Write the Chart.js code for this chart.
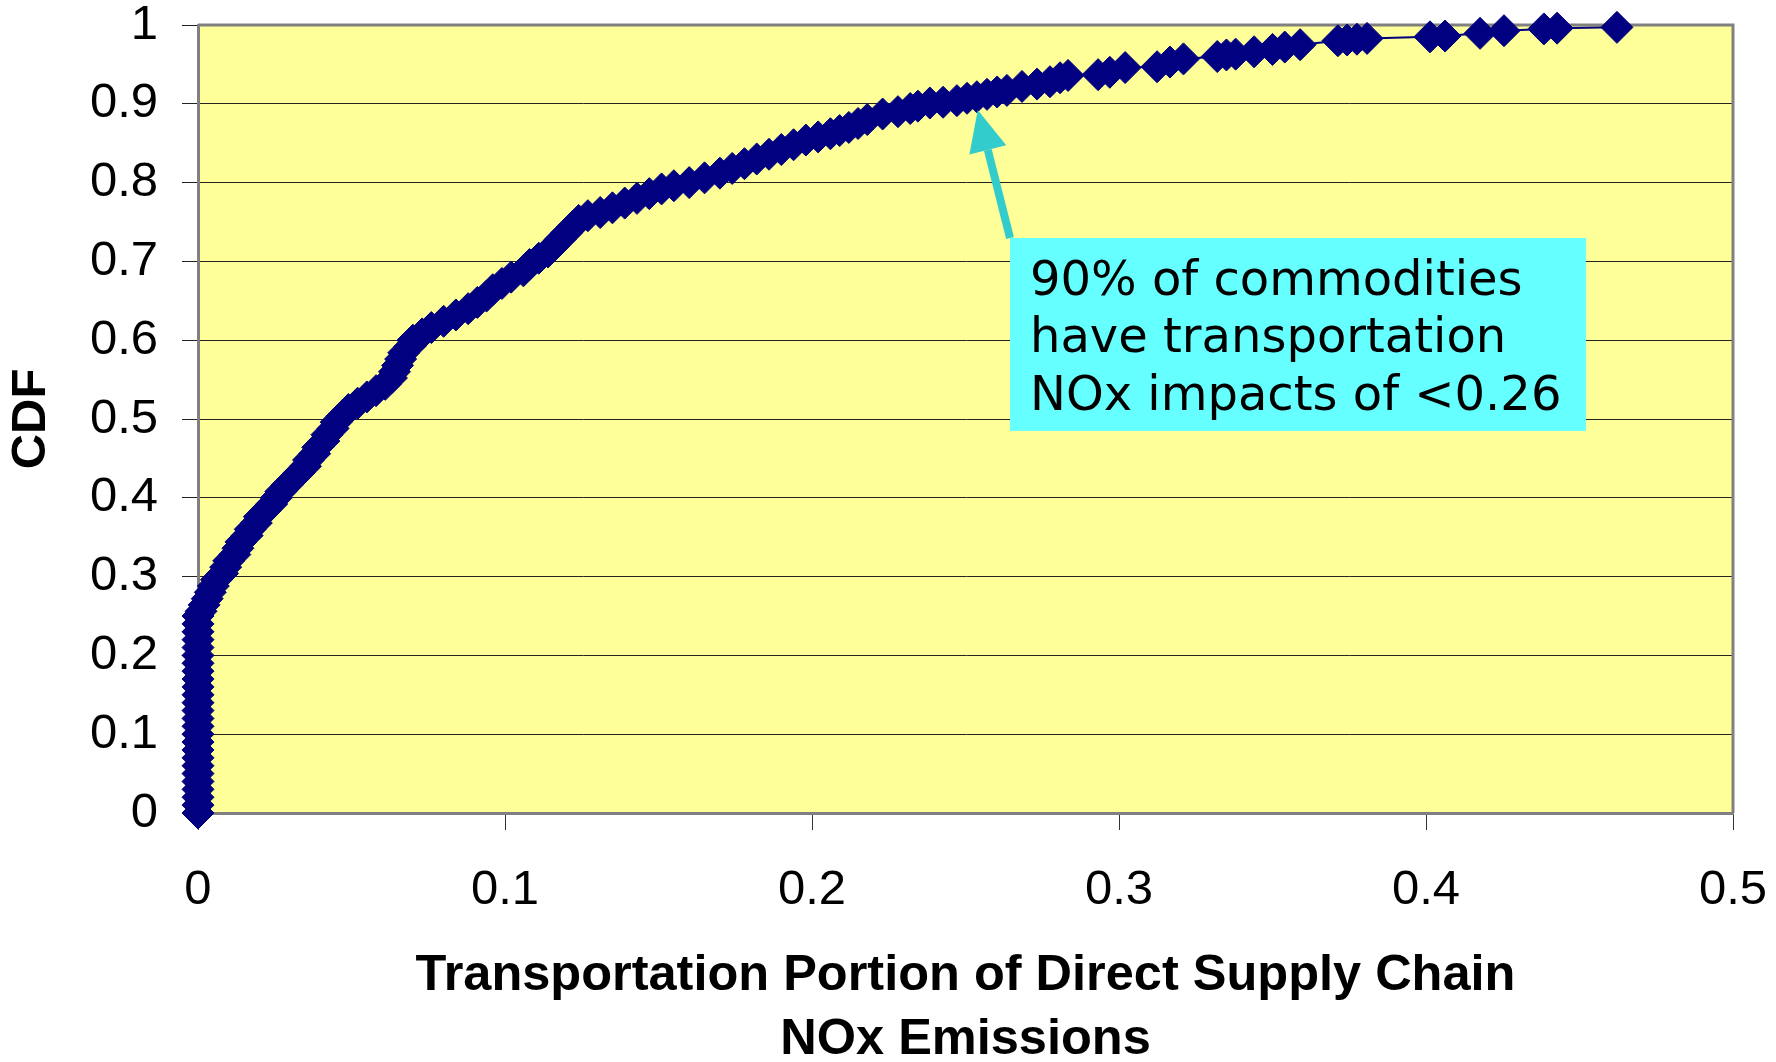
<!DOCTYPE html>
<html>
<head>
<meta charset="utf-8">
<script src="https://cdn.jsdelivr.net/npm/chart.js@4.4.1/dist/chart.umd.min.js"></script>
<style>
  html, body { margin: 0; padding: 0; background: #fff; }
</style>
</head>
<body>
<canvas id="cdf" width="1776" height="1062"></canvas>
<script>
// transportation share of direct supply chain NOx, one entry per commodity (sorted)
let nox = [
  0, 0, 0, 0, 0, 0, 0, 0, 0, 0,
  0, 0, 0, 0, 0, 0, 0, 0, 0, 0,
  0, 0, 0, 0, 0, 0,
  0.001, 0.002, 0.003, 0.004, 0.005, 0.006, 0.008, 0.009, 0.010, 0.012,
  0.013, 0.014, 0.016, 0.017, 0.019, 0.020, 0.022, 0.024, 0.0255, 0.027,
  0.029, 0.031, 0.033, 0.035, 0.036, 0.038, 0.039, 0.041, 0.042, 0.044,
  0.045, 0.047, 0.049, 0.052, 0.055, 0.058, 0.061, 0.063, 0.064, 0.065,
  0.066, 0.067, 0.069, 0.070, 0.073, 0.076, 0.080, 0.084, 0.088, 0.091,
  0.094, 0.096, 0.099, 0.102, 0.106, 0.108, 0.111, 0.114, 0.116, 0.118,
  0.120, 0.122, 0.124, 0.127, 0.131, 0.135, 0.139, 0.143, 0.147, 0.151,
  0.155, 0.160, 0.165, 0.170, 0.174, 0.178, 0.182, 0.186, 0.190, 0.194,
  0.198, 0.202, 0.206, 0.209, 0.212, 0.215, 0.218, 0.223,
  0.228, 0.232, 0.2345, 0.2384, 0.2427, 0.2472, 0.2505, 0.2537, 0.257, 0.2603,
  0.2635, 0.2684, 0.2733, 0.2775, 0.2808, 0.2834, 0.2932, 0.2970, 0.302, 0.3124,
  0.3166, 0.321, 0.332, 0.335, 0.338, 0.344, 0.350, 0.354, 0.359, 0.3713,
  0.3743, 0.3775, 0.3808, 0.4013, 0.4062, 0.4176, 0.4254, 0.4384, 0.4427, 0.4622
]

// cumulative share of commodities
let cdf = [
  0.00, 0.01, 0.02, 0.03, 0.04, 0.05, 0.06, 0.07, 0.08, 0.09,
  0.10, 0.11, 0.12, 0.13, 0.14, 0.15, 0.16, 0.17, 0.18, 0.19,
  0.20, 0.21, 0.22, 0.23, 0.24, 0.25,
  0.256, 0.264, 0.272, 0.280, 0.288, 0.296, 0.304, 0.312, 0.320, 0.328,
  0.336, 0.344, 0.352, 0.360, 0.368, 0.376, 0.384, 0.392, 0.400, 0.408,
  0.416, 0.424, 0.432, 0.440, 0.448, 0.456, 0.464, 0.472, 0.480, 0.488,
  0.496, 0.504, 0.512, 0.520, 0.528, 0.536, 0.544, 0.552, 0.560, 0.568,
  0.576, 0.584, 0.592, 0.600, 0.608, 0.616, 0.624, 0.632, 0.640, 0.648,
  0.656, 0.664, 0.672, 0.680, 0.688, 0.696, 0.704, 0.712, 0.720, 0.728,
  0.736, 0.744, 0.752, 0.758, 0.762, 0.768, 0.774, 0.780, 0.786, 0.792,
  0.796, 0.800, 0.806, 0.812, 0.818, 0.824, 0.830, 0.836, 0.842, 0.848,
  0.854, 0.858, 0.862, 0.866, 0.870, 0.875, 0.880, 0.887,
  0.890, 0.894, 0.897, 0.901, 0.902, 0.904, 0.907, 0.909, 0.912, 0.915,
  0.917, 0.922, 0.925, 0.928, 0.933, 0.936, 0.937, 0.940, 0.946, 0.947,
  0.953, 0.957, 0.960, 0.962, 0.963, 0.966, 0.969, 0.972, 0.975, 0.980,
  0.981, 0.982, 0.983, 0.985, 0.986, 0.9894, 0.9928, 0.995, 0.996, 0.997
]

let xTitle = ['Transportation Portion of Direct Supply Chain', 'NOx Emissions']
let yTitle = 'CDF'

// callout, in data units
let noteLines = ['90% of commodities', 'have transportation', 'NOx impacts of <0.26']
let noteBox = { x0: 0.2645, x1: 0.4521, y0: 0.7297, y1: 0.4848 }
let arrowTip = { x: 0.254, y: 0.892 }
let arrowTail = { x: 0.2645, y: 0.7297 }

let navy = '#000080'

// yellow plot area + grey frame
Chart.register({
  id: 'plotFrame',
  beforeDraw: function (chart) {
    let a = chart.chartArea
    let ctx = chart.ctx
    ctx.save()
    ctx.fillStyle = '#FFFF99'
    ctx.fillRect(a.left, a.top, a.right - a.left, a.bottom - a.top)
    ctx.restore()
  },
  beforeDatasetsDraw: function (chart) {
    let a = chart.chartArea
    let ctx = chart.ctx
    ctx.save()
    ctx.strokeStyle = '#808080'
    ctx.lineWidth = 3
    ctx.beginPath()
    ctx.moveTo(a.left, a.top)
    ctx.lineTo(a.right, a.top)
    ctx.lineTo(a.right, a.bottom)
    ctx.stroke()
    ctx.restore()
  }
})

// cyan callout with arrow
Chart.register({
  id: 'callout',
  afterDraw: function (chart) {
    let x = chart.scales.x
    let y = chart.scales.y
    let ctx = chart.ctx
    ctx.save()

    let bx0 = x.getPixelForValue(noteBox.x0)
    let bx1 = x.getPixelForValue(noteBox.x1)
    let by0 = y.getPixelForValue(noteBox.y0)
    let by1 = y.getPixelForValue(noteBox.y1)
    ctx.fillStyle = '#66FFFF'
    ctx.fillRect(bx0, by0, bx1 - bx0, by1 - by0)

    ctx.fillStyle = '#000'
    ctx.font = '48px "DejaVu Sans"'
    ctx.textBaseline = 'alphabetic'
    ctx.textAlign = 'left'
    noteLines.forEach((line, i) => {
      ctx.fillText(line, bx0 + 20, by0 + 57 + i * 57.5)
    })

    // arrow
    let tx = x.getPixelForValue(arrowTip.x), ty = y.getPixelForValue(arrowTip.y)
    let sx = x.getPixelForValue(arrowTail.x), sy = y.getPixelForValue(arrowTail.y)
    let len = Math.hypot(tx - sx, ty - sy)
    let dx = (tx - sx) / len, dy = (ty - sy) / len
    let headLen = 41, headHalf = 19
    let hx = tx - dx * headLen, hy = ty - dy * headLen
    ctx.strokeStyle = '#33CCCC'
    ctx.fillStyle = '#33CCCC'
    ctx.lineWidth = 8
    ctx.beginPath()
    ctx.moveTo(sx, sy)
    ctx.lineTo(hx, hy)
    ctx.stroke()
    ctx.beginPath()
    ctx.moveTo(tx, ty)
    ctx.lineTo(hx - dy * headHalf, hy + dx * headHalf)
    ctx.lineTo(hx + dy * headHalf, hy - dx * headHalf)
    ctx.closePath()
    ctx.fill()
    ctx.restore()
  }
})

let points = nox.map((v, i) => ({ x: v, y: cdf[i] }))

let config = {
  type: 'line',
  data: {
    datasets: [{
      data: points,
      borderColor: navy,
      borderWidth: 2,
      backgroundColor: navy,
      pointStyle: 'rectRot',
      pointRadius: 16,
      pointBorderWidth: 1,
      pointBackgroundColor: navy,
      pointBorderColor: navy,
      tension: 0,
      clip: false
    }]
  },
  options: {
    responsive: false,
    animation: false,
    devicePixelRatio: 1,
    layout: {
      padding: { left: 0, right: 43, top: 25, bottom: 0 }
    },
    plugins: {
      legend: { display: false },
      tooltip: { enabled: false }
    },
    scales: {
      x: {
        type: 'linear',
        min: 0,
        max: 0.5,
        grid: {
          drawOnChartArea: false,
          drawTicks: true,
          tickLength: 17,
          color: '#333'
        },
        border: { color: '#808080', width: 3 },
        ticks: {
          stepSize: 0.1,
          maxRotation: 0,
          minRotation: 0,
          padding: 31,
          color: '#000',
          font: { family: '"Liberation Sans", Arial', size: 49 },
          callback: v => String(+v.toFixed(1))
        },
        title: {
          display: true,
          text: xTitle,
          color: '#000',
          padding: { top: 0, bottom: -10 },
          font: { family: '"Liberation Sans", Arial', size: 50.5, weight: 'bold', lineHeight: 1.27 }
        },
        afterFit: function (scale) {
          scale.height = 249
          scale.paddingLeft = 0
          scale.paddingRight = 0
        }
      },
      y: {
        min: 0,
        max: 1,
        grid: {
          color: '#222',
          lineWidth: 1,
          tickLength: 16
        },
        border: { color: '#808080', width: 3 },
        ticks: {
          stepSize: 0.1,
          padding: 24,
          color: '#000',
          font: { family: '"Liberation Sans", Arial', size: 49 },
          callback: v => String(+v.toFixed(1))
        },
        title: {
          display: true,
          text: yTitle,
          color: '#000',
          padding: { top: 2, bottom: 0 },
          font: { family: '"Liberation Sans", Arial', size: 49, weight: 'bold', lineHeight: 1.2 }
        },
        afterFit: function (scale) {
          scale.width = 198
          scale.paddingTop = 0
          scale.paddingBottom = 0
        }
      }
    }
  }
}

let chart = new Chart(document.getElementById('cdf').getContext('2d'), config)
</script>
</body>
</html>
